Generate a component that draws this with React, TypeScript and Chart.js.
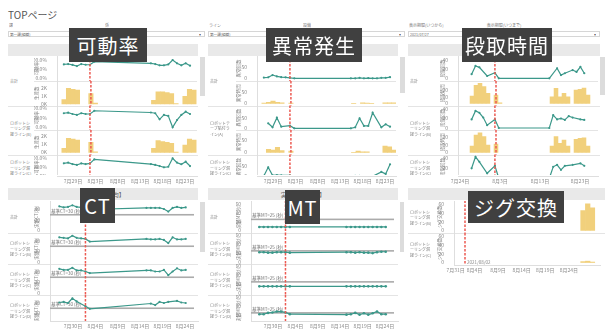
import React, { useEffect, useRef } from "react";
import { Chart, registerables } from "chart.js";

Chart.register(...registerables);

const FONT = '"Noto Sans CJK JP", "Noto Sans", sans-serif';
Chart.defaults.font.family = FONT;

const TEAL = "#3b988a";
const GOLD = "#f1d07c";
const RED = "#ec5a52";
const TICK = "#8a8a8a";

// ---------------- data ----------------
// day number relative to August (0 = 7/31, 1 = 8/1 ...)
const DATES = [-4, -3, -2, -1, 0, 1, 2, 3, 16, 17, 18, 19, 20, 21, 22, 23, 24, 25];
const MARKER_DAY = 2;
const MARKER_LABEL = "2021/08/02";

const TOP_TICKS = [-2, 3, 8, 13, 18, 23];
const TOP_TICK_LABELS = ["7月29日", "8月3日", "8月8日", "8月13日", "8月18日", "8月23日"];
const DANDORI_TICKS = [-7, 3, 13, 23];
const DANDORI_TICK_LABELS = ["7月24日", "8月3日", "8月13日", "8月23日"];
const BOTTOM_TICKS = [-1, 4, 9, 14, 19, 24];
const BOTTOM_TICK_LABELS = ["7月30日", "8月4日", "8月9日", "8月14日", "8月19日", "8月24日"];
const JIG_TICKS = [0, 4, 9, 14, 19, 24];
const JIG_TICK_LABELS = ["7月31日", "8月4日", "8月9日", "8月14日", "8月19日", "8月24日"];

// 可動率 (%)
const KADOU_A = [76, 78, 73, 67, 78, 74, 74, 91, 82, 78, 71, 71, 76, 100, 82, 71, 82, 69];
const KADOU_B = [74, 77, 70, 65, 74, 70, 70, 87, 78, 74, 42, 65, 60, 0, 38, 65, 82, 70];
const KADOU_C = [72, 76, 68, 63, 72, 68, 72, 94, 68, 63, 57, 50, 53, 100, 76, 67, 81, 57];
// 生産数 (K)
const PROD_A = [0.54, 1.96, 1.83, 1.74, null, null, 1.3, 0.1, 0.45, 1.52, 1.52, 1.44, 1.3, 0.05, null, 0.97, 1.83, 1.74];
const PROD_B = [0.5, 1.72, 1.64, 1.52, null, null, 1.24, 0.08, 0.5, 1.43, 1.31, 1.24, 1.11, 0.05, null, 0.91, 1.64, 1.52];

// 異常発生
const IJOU_A = [3, 4, 14, 8, 5, 4, 2, 0, 0, 0, 2, 0, 1, 0, 0, 2, 2, 5];
const IJOU_TIME_A = [2, 5, 10, 5, 3, null, 2, null, 1, null, 3, 2, 1, null, null, 3, 3, 3];
const IJOU_B = [null, 25, 5, 53, 8, null, 13, 0, 0, 5, 50, 12, 12, 78, null, 5, 20, 8];
const IJOU_TIME_B = [null, 13, 10, 22, 8, null, 6, null, 1, 6, 3, 3, null, null, null, 27, 24, 10];
const IJOU_C = [2, 45, 5, 6, 5, null, 5, 0, 0, 2, 2, 0, 0, 0, null, 22, 12, 60];

// 段取時間
const DAN_A = [9, 27, 24, null, 5, null, 12, 0, 0, null, 22, 7, 11, null, 18, 14, 25, 11];
const DAN_TIME_A = [11, 27, 30, 25, 15, null, 12.6, 1, 10, 22.5, 10, 15, 10, null, 20, 21, 23, 12.6];
const DAN_B = [18, 36, 32, 22, 6, null, 18, 0, 0, 27, 18, 20, 17, 25, 22, null, 18, 17];
const DAN_TIME_B = [8, 22, 25, 20, 9.5, null, 10.7, null, 8, 20, 11.6, 15.8, 8, null, 16.7, 18, 18.7, 8];
const DAN_C = [20, 43, 33, null, 10, null, 25, 0, 0, 23, 27, 17, 25, null, 27, null, 30, 25];

// CT (秒)
const CT_REF = 30;
const CT_A = [46, 44, 45, 48, 45, 44, 42, 40, 43, 43, 43, 43, 41, 36, 43, 45, 43, 44];
const CT_B = [47, 46, 45, 50, 46, 45, 44, 39, 44, 43, 43, 44, 42, 36, 47, 43, 43, 44];
const CT_C = [46, 44, 44, 48, 43, 43, 41, 38, 43, 43, 41, 41, 44, 34, 41, 47, 43, 44];
const CT_D = [41, 42, 40, 49, 43, null, 34, 29, null, 39, 36, 42, 40, 42, null, 44, 41, 40];

// MT (秒)
const MT_REF = 25;
const MT_A = [8, 8, 8, 8, 8, 8, 8, 8, 8, 8, 8, 8, 8, 8, 8, 8, 8, 8];
const MT_B = [22, 22, 21, 21, 22, 22, 22, 21, 22, 22, 21, 22, 21, 21, 20, 22, 23, 23];
const MT_C = [15, 15, 15, 15, 15, 15, 15, 15, 15, 15, 15, 15, 15, 15, 15, 15, 15, 15];
const MT_D = [22, 22, 25, 26, 28, 28, 26, 22, 21, 22, 25, 21, 24, 21, 24, 28, 22, 22];

// ジグ交換
const JIG_DATES = [27, 28, 29];
const JIG_A = [45, 60, 51];
const JIG_B = [2, 3, 1];

// ---------------- helpers ----------------
type Val = number | null;
const pts = (days: number[], vals: Val[]) =>
  days.map((d, i) => ({ x: d, y: vals[i] })).filter((p) => p.y !== null) as { x: number; y: number }[];

const pct = (v: number) => v.toFixed(1) + "%";
const kfmt = (v: number) => v + "K";
const num = (v: number) => String(v);

// reference line (behind data) + red dashed marker (on top)
const overlayPlugin = {
  id: "overlay",
  beforeDatasetsDraw(chart: any) {
    const o = chart.config.options.overlay || {};
    if (o.refValue == null) return;
    const { ctx, chartArea } = chart;
    const y = chart.scales.y.getPixelForValue(o.refValue);
    ctx.save();
    ctx.fillStyle = "#ababab";
    ctx.fillRect(chartArea.left, y - 0.8, chartArea.right - chartArea.left, 1.6);
    ctx.fillStyle = "#6f6f6f";
    ctx.font = `4.5px ${FONT}`;
    ctx.textBaseline = "bottom";
    ctx.fillText(o.refLabel, chartArea.left + 1, y - 1.5);
    ctx.restore();
  },
  afterDraw(chart: any) {
    const o = chart.config.options.overlay || {};
    if (o.markerDay == null) return;
    const { ctx, chartArea } = chart;
    const x = chart.scales.x.getPixelForValue(o.markerDay);
    ctx.save();
    ctx.strokeStyle = RED;
    ctx.lineWidth = 1.5;
    ctx.setLineDash([2.5, 1.5]);
    ctx.beginPath();
    ctx.moveTo(x, chartArea.top);
    ctx.lineTo(x, chartArea.bottom);
    ctx.stroke();
    if (o.markerLabel) {
      ctx.setLineDash([]);
      ctx.fillStyle = "#8a8a8a";
      ctx.font = `4.5px ${FONT}`;
      ctx.textBaseline = "bottom";
      ctx.fillText(o.markerLabel, x + 2, chartArea.bottom - 0.5);
    }
    ctx.restore();
  },
};

type RowSpec = {
  kind: "line" | "bar";
  top: number;
  height: number;
  zero: number;
  unit: number;
  ticks: number[];
  fmt: (v: number) => string;
  title: string;
  values: Val[];
  days?: number[];
  ref?: { value: number; label: string };
  markerLabel?: string;
};

type Panel = {
  clip: { left: number; top: number; width: number; height: number };
  plotLeft: number;
  plotRight: number;
  axisLeft: number;
  xMin: number;
  xMax: number;
  barWidth: number;
  pointRadius: number;
  xTicks: number[];
  xLabels: string[];
  axisTop: number;
  rows: RowSpec[];
  groups: { top: number; height: number; label: string }[];
  seps: { y: number; full: boolean }[];
};

function RowChart({ p, r }: { p: Panel; r: RowSpec }) {
  const ref = useRef<HTMLCanvasElement>(null);
  const cTop = Math.floor(r.top - 6);
  const cBottom = Math.ceil(r.top + r.height + 6);
  const cH = cBottom - cTop;
  const cW = Math.round(p.plotRight - p.axisLeft);
  useEffect(() => {
    const yMin = -(r.top + r.height - r.zero) / r.unit;
    const yMax = (r.zero - r.top) / r.unit;
    const data = pts(r.days ?? DATES, r.values);
    const ds: any =
      r.kind === "line"
        ? {
            data,
            borderColor: TEAL,
            backgroundColor: TEAL,
            borderWidth: 1.2,
            pointRadius: p.pointRadius,
            pointBorderWidth: 0,
            tension: 0,
            spanGaps: true,
          }
        : { data, backgroundColor: GOLD, borderWidth: 0, barThickness: p.barWidth };
    const chart = new Chart(ref.current as HTMLCanvasElement, {
      type: r.kind,
      data: { datasets: [ds] },
      plugins: [overlayPlugin as any],
      options: {
        animation: false,
        responsive: false,
        devicePixelRatio: 1,
        overlay: {
          markerDay: MARKER_DAY,
          markerLabel: r.markerLabel,
          refValue: r.ref ? r.ref.value : null,
          refLabel: r.ref ? r.ref.label : "",
        },
        layout: { padding: { top: r.top - cTop, bottom: cBottom - (r.top + r.height), left: 0, right: 0 } },
        plugins: {
          legend: { display: false },
          tooltip: { enabled: false },
        } as any,
        scales: {
          x: { type: "linear", min: p.xMin, max: p.xMax, display: false, offset: false },
          y: {
            type: "linear",
            min: yMin,
            max: yMax,
            afterFit: (s: any) => {
              s.width = p.plotLeft - p.axisLeft;
            },
            afterBuildTicks: (ax: any) => {
              ax.ticks = r.ticks.map((v) => ({ value: v }));
            },
            ticks: {
              autoSkip: false,
              callback: (v: any) => r.fmt(Number(v)),
              font: { size: 5 },
              color: TICK,
              padding: 2,
            },
            grid: { display: false },
            border: { display: true, color: "#dedede", width: 1 },
            title: { display: true, text: r.title, font: { size: 4.5 }, color: TICK, padding: 0 },
          },
        },
      } as any,
    });
    return () => chart.destroy();
  }, []);
  return (
    <canvas
      ref={ref}
      width={cW}
      height={cH}
      style={{
        position: "absolute",
        left: p.axisLeft - p.clip.left,
        top: cTop - p.clip.top,
        width: cW,
        height: cH,
      }}
    />
  );
}

function AxisChart({ p }: { p: Panel }) {
  const ref = useRef<HTMLCanvasElement>(null);
  const PADX = 16;
  const w = Math.round(p.plotRight - p.plotLeft + PADX * 2);
  useEffect(() => {
    const chart = new Chart(ref.current as HTMLCanvasElement, {
      type: "line",
      data: { datasets: [] },
      options: {
        animation: false,
        responsive: false,
        devicePixelRatio: 1,
        layout: { padding: { left: PADX, right: w - PADX - (p.plotRight - p.plotLeft), top: 0, bottom: 0 } },
        plugins: { legend: { display: false }, tooltip: { enabled: false } } as any,
        scales: {
          x: {
            type: "linear",
            min: p.xMin,
            max: p.xMax,
            afterBuildTicks: (ax: any) => {
              ax.ticks = p.xTicks.map((v) => ({ value: v }));
            },
            afterFit: (s: any) => {
              s.height = 11;
            },
            ticks: {
              autoSkip: false,
              maxRotation: 0,
              minRotation: 0,
              callback: (v: any) => p.xLabels[p.xTicks.indexOf(Number(v))] ?? "",
              font: { size: 5 },
              color: TICK,
              padding: 2,
            },
            grid: { display: false, drawTicks: false },
            border: { display: true, color: "#dedede" },
          },
          y: { display: false },
        },
      } as any,
    });
    return () => chart.destroy();
  }, []);
  return (
    <canvas
      ref={ref}
      width={w}
      height={12}
      style={{ position: "absolute", left: p.plotLeft - PADX, top: p.axisTop, width: w, height: 12 }}
    />
  );
}

// tiny text rendered at 2x and scaled down (browsers enforce a minimum font size)
function Tiny({
  l, t, w, h, size, color, children, center, middle, lh,
}: {
  l: number; t: number; w: number; h: number; size: number; color?: string; children: React.ReactNode;
  center?: boolean; middle?: boolean; lh?: number;
}) {
  return (
    <div
      style={{
        position: "absolute",
        left: l,
        top: t,
        width: w * 2,
        height: h * 2,
        transform: "scale(0.5)",
        transformOrigin: "0 0",
        fontSize: size * 2 + "px",
        lineHeight: (lh ?? size * 1.25) * 2 + "px",
        color: color ?? "#7a7a7a",
        display: "flex",
        alignItems: middle ? "center" : "flex-start",
        justifyContent: center ? "center" : "flex-start",
        textAlign: center ? "center" : "left",
        wordBreak: "break-all",
        whiteSpace: "normal",
        pointerEvents: "none",
      }}
    >
      <div>{children}</div>
    </div>
  );
}

function PanelView({ p }: { p: Panel }) {
  return (
    <>
      <div
        style={{
          position: "absolute",
          left: p.clip.left,
          top: p.clip.top,
          width: p.clip.width,
          height: p.clip.height,
          overflow: "hidden",
        }}
      >
        {p.seps.map((s, i) => (
          <div
            key={"s" + i}
            style={{
              position: "absolute",
              left: s.full ? 0 : p.axisLeft - p.clip.left,
              width: s.full ? p.clip.width : p.plotRight - p.axisLeft,
              top: Math.round(s.y - p.clip.top),
              height: 1,
              background: "#e4e4e4",
            }}
          />
        ))}
        {p.groups.map((g, i) => (
          <Tiny key={"g" + i} l={2} t={g.top - p.clip.top} w={23} h={g.height} size={4} lh={5.5} middle>
            {g.label}
          </Tiny>
        ))}
        {p.rows.map((r, i) => (
          <RowChart key={i} p={p} r={r} />
        ))}
      </div>
      <AxisChart p={p} />
    </>
  );
}

const LINE_B = "ロボットシーリング溶接ライン(B)";
const LINE_C = "ロボットシーリング溶接ライン(C)";
const LINE_D = "ロボットシーリング溶接ライン(D)";

const topGroups = (a: string, b: string, c: string) => [
  { top: 56, height: 49.5, label: a },
  { top: 105.5, height: 44, label: b },
  { top: 154.5, height: 25, label: c },
];
const TOP_SEPS = [
  { y: 105.5, full: true },
  { y: 154.5, full: true },
  { y: 81, full: false },
  { y: 130, full: false },
];

const P1: Panel = {
  clip: { left: 8, top: 56, width: 190, height: 119 },
  plotLeft: 57, plotRight: 197, axisLeft: 34,
  xMin: -5.57, xMax: 25.68, barWidth: 4.4, pointRadius: 1.1,
  xTicks: TOP_TICKS, xLabels: TOP_TICK_LABELS, axisTop: 175,
  rows: [
    { kind: "line", top: 56, height: 25, zero: 78.3, unit: 0.183, ticks: [0, 50, 100], fmt: pct, title: "可動率", values: KADOU_A },
    { kind: "bar", top: 81, height: 24.5, zero: 104, unit: 8, ticks: [0, 1, 2], fmt: kfmt, title: "生産数", values: PROD_A },
    { kind: "line", top: 105.5, height: 24.5, zero: 127.3, unit: 0.19, ticks: [0, 50, 100], fmt: pct, title: "可動率", values: KADOU_B },
    { kind: "bar", top: 130, height: 24.5, zero: 152.5, unit: 8.25, ticks: [0, 1, 2], fmt: kfmt, title: "生産数", values: PROD_B },
    { kind: "line", top: 154.5, height: 25, zero: 176.3, unit: 0.18, ticks: [0, 50, 100], fmt: pct, title: "可動率", values: KADOU_C },
  ],
  groups: topGroups("合計", LINE_B, LINE_C),
  seps: TOP_SEPS,
};

const P2: Panel = {
  clip: { left: 208, top: 56, width: 190, height: 119 },
  plotLeft: 257, plotRight: 396, axisLeft: 236,
  xMin: -5.57, xMax: 25.45, barWidth: 4.4, pointRadius: 1.1,
  xTicks: TOP_TICKS, xLabels: TOP_TICK_LABELS, axisTop: 175,
  rows: [
    { kind: "line", top: 56, height: 25, zero: 78.3, unit: 0.232, ticks: [0, 50], fmt: num, title: "異常回数", values: IJOU_A },
    { kind: "bar", top: 81, height: 24.5, zero: 103.5, unit: 0.23, ticks: [0, 50], fmt: num, title: "異常時間", values: IJOU_TIME_A },
    { kind: "line", top: 105.5, height: 24.5, zero: 128.3, unit: 0.2, ticks: [0, 50], fmt: num, title: "異常回数", values: IJOU_B },
    { kind: "bar", top: 130, height: 24.5, zero: 152.5, unit: 0.24, ticks: [0, 50], fmt: num, title: "異常時間", values: IJOU_TIME_B },
    { kind: "line", top: 154.5, height: 25, zero: 176.3, unit: 0.2, ticks: [0, 50], fmt: num, title: "異常回数", values: IJOU_C },
  ],
  groups: topGroups("合計", "ロボットテープ貼付ライン(A)", LINE_C),
  seps: TOP_SEPS,
};

const P3: Panel = {
  clip: { left: 408, top: 56, width: 192, height: 119 },
  plotLeft: 458, plotRight: 598, axisLeft: 440,
  xMin: -7.5, xMax: 27.5, barWidth: 3.9, pointRadius: 1.1,
  xTicks: DANDORI_TICKS, xLabels: DANDORI_TICK_LABELS, axisTop: 175,
  rows: [
    { kind: "line", top: 56, height: 25, zero: 78.3, unit: 0.4575, ticks: [0, 20, 40], fmt: num, title: "段取回数", values: DAN_A },
    { kind: "bar", top: 81, height: 24.5, zero: 103.5, unit: 0.675, ticks: [0, 10, 20], fmt: num, title: "段取時間", values: DAN_TIME_A },
    { kind: "line", top: 105.5, height: 24.5, zero: 128, unit: 0.475, ticks: [0, 20, 40], fmt: num, title: "段取回数", values: DAN_B },
    { kind: "bar", top: 130, height: 24.5, zero: 152.5, unit: 0.79, ticks: [0, 10, 20], fmt: num, title: "段取時間", values: DAN_TIME_B },
    { kind: "line", top: 154.5, height: 25, zero: 178.3, unit: 0.5, ticks: [20, 40], fmt: num, title: "段取回数", values: DAN_C },
  ],
  groups: topGroups("合計", LINE_B, LINE_C),
  seps: TOP_SEPS,
};

const B_TOPS = [200.5, 233, 264, 295];
const B_HEIGHTS = [32.5, 31, 31, 31];
const B_ZEROS = [230.5, 262, 293, 324];
const B_SEPS = [
  { y: 233, full: true },
  { y: 264, full: true },
  { y: 295, full: true },
];
const bGroups = (labels: string[]) => labels.map((l, i) => ({ top: B_TOPS[i], height: B_HEIGHTS[i], label: l }));

const ctRow = (i: number, values: Val[]): RowSpec => ({
  kind: "line", top: B_TOPS[i], height: B_HEIGHTS[i], zero: B_ZEROS[i], unit: 0.525, ticks: [0, 20, 40], fmt: num,
  title: "実績CT(秒)", values, ref: { value: CT_REF, label: `基準CT=${CT_REF} (秒)` },
});
const mtRow = (i: number, values: Val[]): RowSpec => ({
  kind: "line", top: B_TOPS[i], height: B_HEIGHTS[i], zero: B_ZEROS[i], unit: 0.445, ticks: [0, 20, 40, 60], fmt: num,
  title: "実績MT(秒)", values, ref: { value: MT_REF, label: `基準MT=${MT_REF} (秒)` },
});

const P4: Panel = {
  clip: { left: 8, top: 201, width: 190, height: 120 },
  plotLeft: 50, plotRight: 198, axisLeft: 34,
  xMin: -6.13, xMax: 26.9, barWidth: 4.4, pointRadius: 1.1,
  xTicks: BOTTOM_TICKS, xLabels: BOTTOM_TICK_LABELS, axisTop: 320,
  rows: [ctRow(0, CT_A), ctRow(1, CT_B), ctRow(2, CT_C), ctRow(3, CT_D)],
  groups: bGroups(["合計", LINE_B, LINE_C, LINE_D]),
  seps: B_SEPS,
};

const P5: Panel = {
  clip: { left: 208, top: 201, width: 190, height: 120 },
  plotLeft: 251, plotRight: 398, axisLeft: 236,
  xMin: -5.91, xMax: 26.9, barWidth: 4.4, pointRadius: 1.3,
  xTicks: BOTTOM_TICKS, xLabels: BOTTOM_TICK_LABELS, axisTop: 320,
  rows: [mtRow(0, MT_A), mtRow(1, MT_B), mtRow(2, MT_C), mtRow(3, MT_D)],
  groups: bGroups(["合計", LINE_B, LINE_C, LINE_D]),
  seps: B_SEPS,
};

const P6: Panel = {
  clip: { left: 408, top: 201, width: 197, height: 64 },
  plotLeft: 454, plotRight: 600, axisLeft: 437,
  xMin: -0.33, xMax: 30.6, barWidth: 4.6, pointRadius: 1.1,
  xTicks: JIG_TICKS, xLabels: JIG_TICK_LABELS, axisTop: 264,
  rows: [
    { kind: "bar", top: 200.5, height: 32.5, zero: 230.5, unit: 0.445, ticks: [0, 20, 40, 60], fmt: num, title: "ジグ交換数", values: JIG_A, days: JIG_DATES },
    { kind: "bar", top: 233, height: 32, zero: 262.5, unit: 0.445, ticks: [0, 20, 40, 60], fmt: num, title: "ジグ交換数", values: JIG_B, days: JIG_DATES, markerLabel: MARKER_LABEL },
  ],
  groups: [
    { top: 200.5, height: 32.5, label: LINE_B },
    { top: 233, height: 32, label: LINE_C },
  ],
  seps: [{ y: 233, full: true }],
};

const abs = (l: number, t: number, w: number, h: number): React.CSSProperties => ({
  position: "absolute", left: l, top: t, width: w, height: h,
});

function Header({ l, t, w, text }: { l: number; t: number; w: number; text: string }) {
  return (
    <div
      style={{
        ...abs(l, t, w, 12),
        background: "#e9e9e9",
        color: "#666",
        fontSize: "6px",
        display: "flex",
        alignItems: "center",
        justifyContent: "center",
      }}
    >
      {text}
    </div>
  );
}

function Badge({ l, t, w, h, text }: { l: number; t: number; w: number; h: number; text: string }) {
  return (
    <div
      style={{
        ...abs(l, t, w, h),
        background: "#404040",
        color: "#fff",
        fontSize: "20px",
        display: "flex",
        alignItems: "center",
        justifyContent: "center",
        letterSpacing: "1px",
      }}
    >
      {text}
    </div>
  );
}

function Filter({ l, w, label, center, value }: { l: number; w: number; label: string; center: string; value: string }) {
  return (
    <>
      <Tiny l={l + 1} t={23} w={60} h={6} size={4}>{label}</Tiny>
      <Tiny l={l + w / 2 - 30} t={23} w={60} h={6} size={4} center>{center}</Tiny>
      <div
        style={{
          ...abs(l, 31, w, 6),
          border: "1px solid #d6d6d6",
          boxSizing: "border-box",
          background: "#fff",
        }}
      />
      <Tiny l={l + 2} t={32} w={60} h={5} size={3.6} color="#666">{value}</Tiny>
      <Tiny l={l + w - 6} t={32} w={5} h={5} size={3.6} color="#666">▾</Tiny>
    </>
  );
}

export default function App() {
  return (
    <div
      style={{
        position: "absolute",
        left: 0,
        top: 0,
        width: 605,
        height: 329,
        overflow: "hidden",
        background: "#fff",
        fontFamily: FONT,
      }}
    >
      <div style={{ ...abs(8, 8, 120, 14), fontSize: "10px", color: "#555", lineHeight: "14px" }}>TOPページ</div>

      <Filter l={8} w={197} label="課" center="係" value="第一課(組織)" />
      <Filter l={208} w={197} label="ライン" center="設備" value="第一課(組織)" />
      <Filter l={408} w={192} label="表示期間(いつから)" center="表示期間(いつまで)" value="2021/07/27" />

      <Header l={8} t={44} w={190} text="可動率" />
      <Header l={208} t={44} w={190} text="異常発生" />
      <Header l={408} t={44} w={192} text="段取時間" />
      <Header l={8} t={188} w={190} text="実績CT【平均】" />
      <Header l={208} t={188} w={190} text="実績MT【平均】" />
      <Header l={408} t={188} w={197} text="ジグ交換" />

      <PanelView p={P1} />
      <PanelView p={P2} />
      <PanelView p={P3} />
      <PanelView p={P4} />
      <PanelView p={P5} />
      <PanelView p={P6} />

      {/* scrollbars */}
      <div style={{ ...abs(200, 57, 5, 39), background: "#dcdcdc" }} />
      <div style={{ ...abs(400, 57, 5, 36), background: "#dcdcdc" }} />
      <div style={{ ...abs(600, 57, 5, 38), background: "#dcdcdc" }} />
      <div style={{ ...abs(200, 202, 5, 50), background: "#dcdcdc" }} />
      <div style={{ ...abs(400, 202, 4, 50), background: "#dcdcdc" }} />

      <Badge l={69} t={28} w={78} h={34} text="可動率" />
      <Badge l={266} t={28} w={96} h={34} text="異常発生" />
      <Badge l={462} t={28} w={90} h={34} text="段取時間" />
      <Badge l={80} t={188} w={35} h={35} text="CT" />
      <Badge l={285} t={190} w={35} h={34} text="MT" />
      <Badge l={468} t={191} w={96} h={32} text="ジグ交換" />
    </div>
  );
}
